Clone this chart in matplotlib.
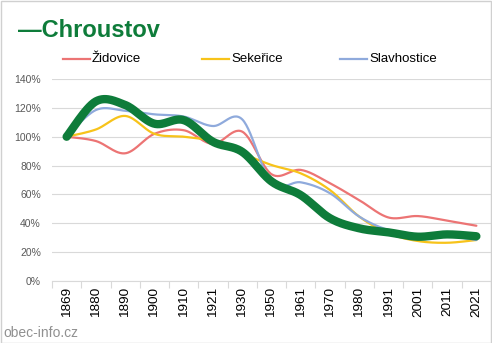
import numpy as np
import matplotlib
matplotlib.use("Agg")
import matplotlib.pyplot as plt
from matplotlib.patches import Rectangle

years = ["1869", "1880", "1890", "1900", "1910", "1921", "1930", "1950",
         "1961", "1970", "1980", "1991", "2001", "2011", "2021"]
chroustov = [100, 124.5, 122, 109, 111.5, 96.5, 89.5, 69, 59.5, 43.5, 36.5, 33.7, 30.7, 32.3, 31]
zidovice = [100, 97, 88.5, 102, 104.5, 95, 103.5, 74, 77, 67.7, 56, 44, 45, 41.8, 38.3]
sekerice = [100, 105, 114.4, 102, 100, 97, 88.5, 80.4, 74.6, 63, 44.6, 33, 27.7, 26.5, 28.4]
slavhostice = [100, 118.5, 118, 115.5, 114, 107.4, 112, 68, 68.4, 60.8, 44.6, 35.3, 32.3, 31.4, 28.4]
yticks = [0, 20, 40, 60, 80, 100, 120, 140]

def smooth(x, y, n=30):
    x = np.asarray(x, float); y = np.asarray(y, float)
    px = np.concatenate([[x[0]], x, [x[-1]]])
    py = np.concatenate([[y[0]], y, [y[-1]]])
    xs, ys = [], []
    for i in range(1, len(px) - 2):
        p0x, p1x, p2x, p3x = px[i-1], px[i], px[i+1], px[i+2]
        p0y, p1y, p2y, p3y = py[i-1], py[i], py[i+1], py[i+2]
        c1x = p1x + (p2x - p0x) / 6; c1y = p1y + (p2y - p0y) / 6
        c2x = p2x - (p3x - p1x) / 6; c2y = p2y - (p3y - p1y) / 6
        t = np.linspace(0, 1, n)
        bx = (1-t)**3*p1x + 3*(1-t)**2*t*c1x + 3*(1-t)*t**2*c2x + t**3*p2x
        by = (1-t)**3*p1y + 3*(1-t)**2*t*c1y + 3*(1-t)*t**2*c2y + t**3*p2y
        xs.append(bx); ys.append(by)
    return np.concatenate(xs), np.concatenate(ys)

plt.rcParams['font.family'] = ['Liberation Sans', 'DejaVu Sans']
fig = plt.figure(figsize=(4.92, 3.43), dpi=100)
W, H = 492, 343
ax = fig.add_axes([52 / W, 1 - 281 / H, (491 - 52) / W, (281 - 79) / H])

x = np.arange(len(years))
series = [(zidovice, "#EC7474", 1.6, "Židovice"),
          (sekerice, "#F7C31A", 1.6, "Sekeřice"),
          (slavhostice, "#8FAADC", 1.6, "Slavhostice")]
for vals, col, lw, lab in series:
    sx, sy = smooth(x, vals)
    ax.plot(sx, sy, color=col, lw=lw, solid_capstyle='round', zorder=3)
sx, sy = smooth(x, chroustov)
ax.plot(sx, sy, color="#0E7C3A", lw=6, solid_capstyle='round', zorder=4)

ax.set_xlim(-0.5, len(years) - 0.5)
ax.set_ylim(0, 140)
ax.set_yticks(yticks)
ax.set_yticklabels([f"{v}%" for v in yticks], color="#595959", fontsize=7.5)
ax.set_xticks(x)
ax.set_xticklabels(years, rotation=90, fontsize=9.7, color="#000000")
ax.set_xticks(np.arange(-0.5, len(years)), minor=True)
ax.tick_params(axis='x', which='major', length=0, pad=4)
ax.tick_params(axis='x', which='minor', length=5, color="#D9D9D9", width=0.8)
ax.tick_params(axis='y', length=0, pad=8)
ax.grid(axis='y', color="#D9D9D9", lw=0.8)
ax.set_axisbelow(True)
for s in ['top', 'right', 'left']:
    ax.spines[s].set_visible(False)
ax.spines['bottom'].set_color("#D9D9D9")
ax.spines['bottom'].set_linewidth(0.8)

# Title (legend entry for Chroustov)
fig.text(18 / W, 1 - 37 / H, "—Chroustov", color="#0E7C3A", fontsize=17,
         fontweight='bold', va='baseline', ha='left')

# Legend for other series
leg_items = [(63, "#EC7474", "Židovice"), (202, "#F7C31A", "Sekeřice"),
             (340, "#8FAADC", "Slavhostice")]
for lx, col, lab in leg_items:
    yy = 1 - 59 / H
    fig.add_artist(plt.Line2D([lx / W, (lx + 27) / W], [yy, yy], color=col, lw=1.6))
    fig.text((lx + 29) / W, yy, lab, fontsize=9.5, va='center', ha='left', color="#000000")

fig.text(3 / W, 1 - 337 / H, "obec-info.cz", fontsize=10, color="#909090",
         va='baseline', ha='left')

fig.add_artist(Rectangle((0.5 / W, 0.5 / H), (W - 1.5) / W, (H - 1.5) / H,
                         transform=fig.transFigure, fill=False, edgecolor="#D0D0D0", lw=1))

fig.savefig("out.png", dpi=100)
